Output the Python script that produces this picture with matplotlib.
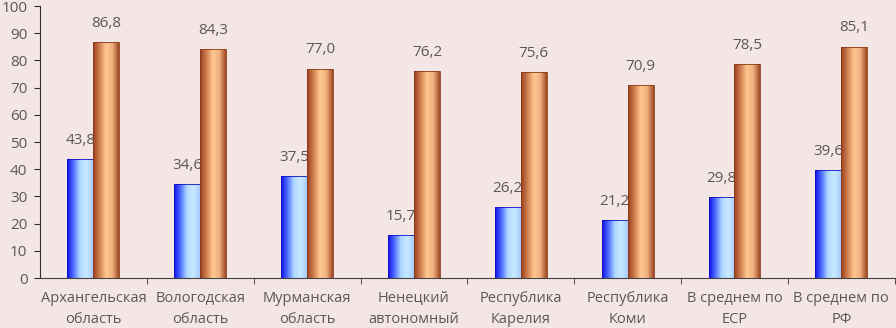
import numpy as np
import matplotlib.pyplot as plt
from matplotlib.colors import LinearSegmentedColormap

regions = ['Архангельская\nобласть', 'Вологодская\nобласть', 'Мурманская\nобласть',
           'Ненецкий\nавтономный\nокруг', 'Республика\nКарелия', 'Республика\nКоми',
           'В среднем по\nЕСР', 'В среднем по\nРФ']
blue_vals = [43.8, 34.6, 37.5, 15.7, 26.2, 21.2, 29.8, 39.6]
orange_vals = [86.8, 84.3, 77.0, 76.2, 75.6, 70.9, 78.5, 85.1]

bg = '#F5E6E6'
txt = '#595959'
plt.rcParams['font.family'] = ['Open Sans', 'DejaVu Sans']

blue_cmap = LinearSegmentedColormap.from_list('b', ['#1010E8', '#5070FF', '#B0D8FF', '#C8EAFF', '#A8CCFF'])
orange_cmap = LinearSegmentedColormap.from_list('o', ['#9A4020', '#D08050', '#FFC890', '#F0B080', '#A04A25'])

fig = plt.figure(figsize=(8.96, 3.28), dpi=100, facecolor=bg)
ax = fig.add_axes([0.0446, 0.1524, 0.954, 0.8293], facecolor=bg)

x = np.arange(len(regions))
w = 0.243
grad = np.linspace(0, 1, 64).reshape(1, -1)

b1 = ax.bar(x - w / 2, blue_vals, w, color='none', edgecolor='#1010C0', linewidth=0.6, zorder=2)
b2 = ax.bar(x + w / 2, orange_vals, w, color='none', edgecolor='#8A3A18', linewidth=0.6, zorder=4)

for bars, cmap, z in [(b1, blue_cmap, 1.9), (b2, orange_cmap, 3.9)]:
    for r in bars:
        x0, y0 = r.get_x(), r.get_y()
        im = ax.imshow(grad, cmap=cmap, aspect='auto', zorder=z,
                       extent=[x0, x0 + r.get_width(), y0, y0 + r.get_height()])
        im.set_clip_path(r)

for xi, v in zip(x, blue_vals):
    ax.annotate(f'{v:.1f}'.replace('.', ','), (xi - w / 2, v), xytext=(0, 8),
                textcoords='offset points', ha='center', va='bottom', color=txt,
                fontsize=11, zorder=3)
for xi, v in zip(x, orange_vals):
    ax.annotate(f'{v:.1f}'.replace('.', ','), (xi + w / 2, v), xytext=(0, 8),
                textcoords='offset points', ha='center', va='bottom', color=txt,
                fontsize=11, zorder=5)

ax.set_xlim(-0.5, len(regions) - 0.5)
ax.set_ylim(0, 100)
ax.set_yticks(range(0, 101, 10))
ax.set_xticks(x)
ax.set_xticklabels(regions, fontsize=10.5, color=txt, va='top', linespacing=1.55)
ax.set_xticks(np.arange(0.5, len(regions), 1), minor=True)
ax.tick_params(axis='x', which='major', length=0, pad=9)
ax.tick_params(axis='x', which='minor', length=4, direction='out', color='#303030')
ax.tick_params(axis='y', length=4, direction='out', color='#303030', labelcolor=txt, labelsize=11, pad=5)

for s in ['top', 'right']:
    ax.spines[s].set_visible(False)
ax.spines['left'].set_color('#303030')
ax.spines['bottom'].set_color('#404040')

fig.savefig('out.png', dpi=100, facecolor=bg)
